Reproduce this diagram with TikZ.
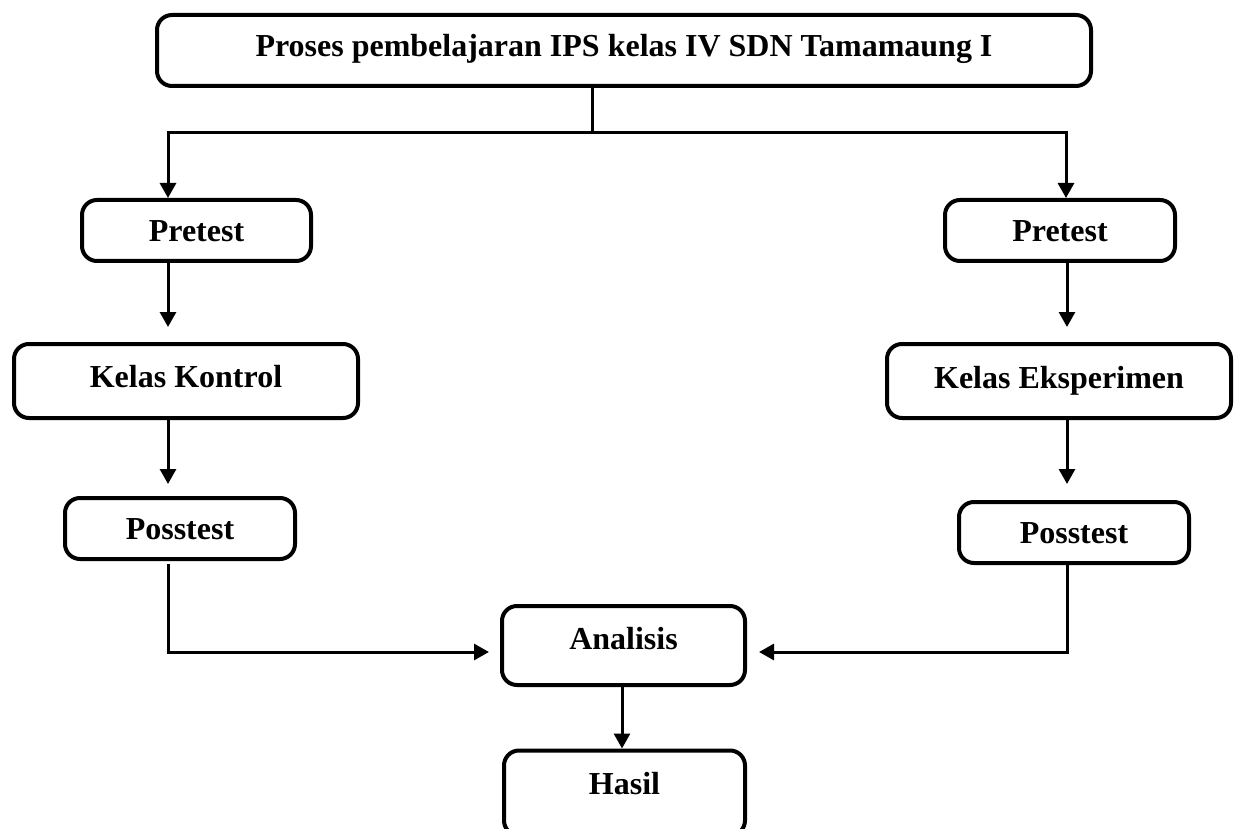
\documentclass[tikz,border=0pt]{standalone}
\usepackage{fontspec}
\setmainfont{Liberation Serif}
\usetikzlibrary{arrows.meta,calc}
\begin{document}
\begin{tikzpicture}[x=1pt,y=-1pt,
  box/.style={draw,line width=4pt,rounded corners=15pt,inner sep=0pt,
    font=\bfseries\fontsize{32}{38}\selectfont,text height=22pt,text depth=8pt},
  conn/.style={line width=3pt},
  arr/.style={conn,-{Triangle[length=15pt,width=16pt]}}]
\useasboundingbox (0,0) rectangle (1235,829);
% nodes
\node[box,minimum width=934pt,minimum height=71pt,text depth=9pt] (top) at (624,50.5) {Proses pembelajaran IPS kelas IV SDN Tamamaung I};
\node[box,minimum width=229pt,minimum height=61pt,text depth=0pt] (pre1) at (196.5,230.5) {Pretest};
\node[box,minimum width=230pt,minimum height=61pt,text depth=0pt] (pre2) at (1060,230.5) {Pretest};
\node[box,minimum width=344pt,minimum height=74pt,text depth=10pt] (kk) at (186,381) {Kelas Kontrol};
\node[box,minimum width=344pt,minimum height=74pt,text depth=8pt] (ke) at (1059,381) {Kelas Eksperimen};
\node[box,minimum width=230pt,minimum height=61pt,text depth=0pt] (pos1) at (180,528.5) {Posstest};
\node[box,minimum width=230pt,minimum height=61pt,text depth=0pt] (pos2) at (1074,532.5) {Posstest};
\node[box,minimum width=243pt,minimum height=79pt,text depth=14pt] (an) at (623.5,645.5) {Analisis};
\node[box,minimum width=241pt,minimum height=85pt,text depth=19pt] (ha) at (624.5,793) {Hasil};
% helper coordinates
\coordinate (colT) at (592,0);
\coordinate (colL) at (168,0);
\coordinate (colR) at (1067,0);
\coordinate (colM) at (622,0);
\coordinate (jL) at (168,133);
\coordinate (jR) at (1066,133);
\coordinate (jA) at (0,652);
% connectors
\draw[conn] (top.south -| colT) -- (colT |- jL);
\draw[arr] (colT |- jL) -- (jL) -- (pre1.north -| jL);
\draw[arr] (colT |- jR) -- (jR) -- (pre2.north -| jR);
\draw[arr,shorten >=15pt] (pre1.south -| colL) -- (kk.north -| colL);
\draw[arr,shorten >=12pt] (kk.south -| colL) -- (pos1.north -| colL);
\draw[arr,shorten >=15pt] (pre2.south -| colR) -- (ke.north -| colR);
\draw[arr,shorten >=16pt] (ke.south -| colR) -- (pos2.north -| colR);
\draw[arr,shorten <=3pt,shorten >=11pt] (pos1.south -| colL) -- (colL |- jA) -- (an.west |- jA);
\draw[arr,shorten >=12pt] (pos2.south -| colR) -- (colR |- jA) -- (an.east |- jA);
\draw[arr] (an.south -| colM) -- (ha.north -| colM);
\end{tikzpicture}
\end{document}
